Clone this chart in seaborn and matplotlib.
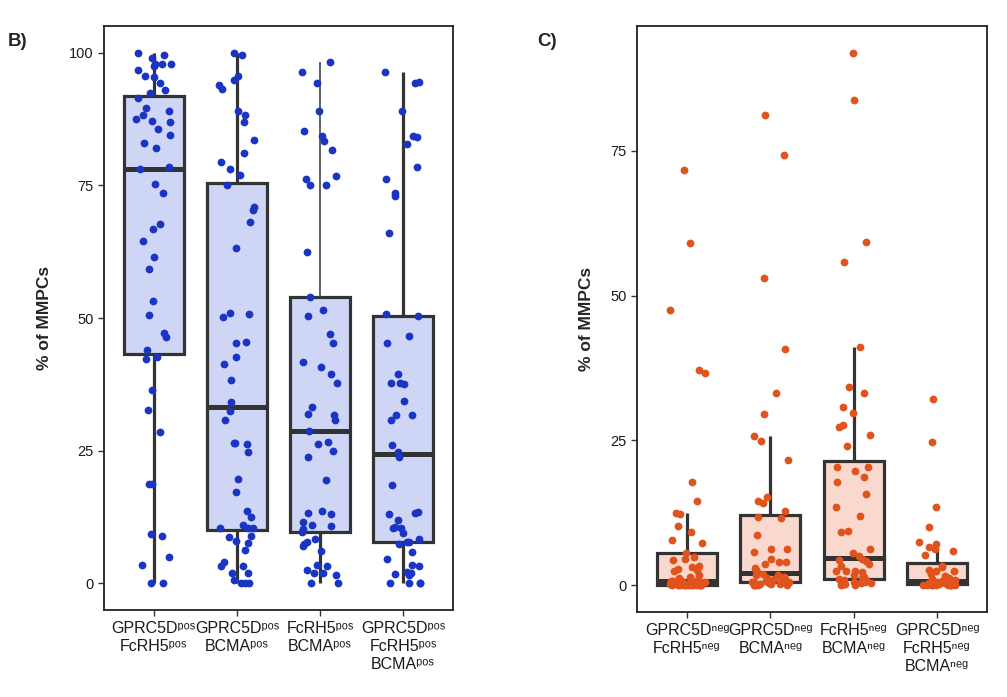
import numpy as np
import pandas as pd
import matplotlib
matplotlib.use("Agg")
import matplotlib.pyplot as plt
import seaborn as sns

# ---------------- data ----------------
P = "\u1d56\u1d52\u02e2"   # superscript "pos"
N = "\u207f\u1d49\u1d4d"   # superscript "neg"
pos_groups = ["GPRC5D" + P + "\nFcRH5" + P,
              "GPRC5D" + P + "\nBCMA" + P,
              "FcRH5" + P + "\nBCMA" + P,
              "GPRC5D" + P + "\nFcRH5" + P + "\nBCMA" + P]
neg_groups = ["GPRC5D" + N + "\nFcRH5" + N,
              "GPRC5D" + N + "\nBCMA" + N,
              "FcRH5" + N + "\nBCMA" + N,
              "GPRC5D" + N + "\nFcRH5" + N + "\nBCMA" + N]

pos_g1 = [99.9, 99.6, 98.9, 97.8, 97.8, 97.8, 97.4, 96.7, 95.6, 95.3, 94.2, 93.0, 92.3,
          91.5, 89.6, 88.9, 88.3, 87.2, 87.0, 87.5, 85.6, 84.4, 83.0, 82.1, 78.5, 78.0,
          75.2, 73.6, 67.7, 66.8, 64.5, 61.5, 59.3, 53.2, 50.5, 46.4, 47.2, 43.9, 42.6,
          42.3, 36.5, 32.6, 28.6, 18.7, 18.7, 9.0, 9.3, 4.9, 3.4, 0.0, 0.0]
pos_g2 = [99.9, 99.5, 95.5, 94.8, 93.8, 93.2, 88.2, 89.0, 86.9, 83.6, 81.1, 79.4, 78.1,
          76.9, 75.0, 71.0, 70.4, 68.1, 63.2, 50.8, 50.1, 51.0, 45.2, 45.4, 42.6, 41.4,
          38.3, 34.2, 32.4, 30.8, 26.4, 26.4, 26.3, 24.8, 19.7, 17.2, 13.6, 12.6, 11.1,
          10.4, 10.4, 10.4, 9.0, 8.7, 8.0, 7.6, 6.3, 4.0, 3.2, 3.2, 1.9, 1.9, 0.6, 0.0,
          0.0, 0.0]
pos_g3 = [98.2, 96.4, 94.2, 88.9, 85.2, 84.2, 83.4, 81.6, 76.8, 76.1, 75.1, 75.1, 62.5,
          53.9, 51.5, 50.3, 46.9, 45.2, 41.8, 40.7, 39.5, 37.7, 33.2, 32.0, 31.7, 30.8,
          28.7, 26.2, 26.6, 24.9, 23.8, 19.5, 13.1, 13.6, 13.2, 11.5, 11.0, 10.8, 10.3,
          9.6, 8.3, 7.5, 7.8, 7.0, 6.2, 3.2, 3.5, 2.5, 1.9, 2.0, 1.5, 0.0, 0.0]
pos_g4 = [96.4, 94.2, 94.5, 88.9, 84.2, 84.0, 82.8, 78.5, 76.1, 73.0, 73.6, 66.0, 50.3,
          50.8, 46.6, 45.2, 39.5, 37.7, 37.7, 37.5, 34.4, 31.8, 31.8, 30.8, 26.1, 24.8,
          23.8, 18.5, 13.5, 13.2, 13.0, 11.9, 10.4, 10.4, 10.7, 9.5, 8.4, 7.5, 7.8, 7.8,
          6.0, 4.7, 3.5, 3.2, 2.1, 1.8, 1.5, 2.0, 0.0, 0.0, 0.0, 0.0]

neg_g1 = [71.6, 59.1, 47.5, 36.7, 37.1, 17.9, 14.5, 12.5, 12.3, 10.3, 9.2, 7.9, 7.3,
          5.6, 4.6, 4.3, 4.9, 3.4, 3.1, 2.9, 2.6, 2.4, 1.7, 1.4, 1.3,
          0.0, 0.0, 0.0, 0.0, 0.0, 0.0, 0.0, 0.0, 0.0, 0.0, 0.0, 0.0, 0.1, 0.1, 0.2,
          0.2, 0.3, 0.3, 0.4, 0.4, 0.5, 0.5, 0.6, 0.6, 0.7, 0.7, 0.8, 0.8]
neg_g2 = [81.1, 74.2, 53.0, 40.7, 33.1, 29.6, 25.7, 24.9, 21.7, 15.2, 14.6, 14.2, 12.8,
          11.8, 11.7, 8.7, 6.2, 6.2, 5.7, 4.1, 3.7, 4.0, 4.6, 3.0, 2.6, 2.3,
          0.0, 0.0, 0.0, 0.1, 0.1, 0.2, 0.2, 0.3, 0.3, 0.4, 0.4, 0.5, 0.5, 0.6, 0.7,
          0.8, 0.9, 1.0, 1.1, 1.2, 1.3, 1.4, 1.5, 1.7, 1.8, 2.0]
neg_g3 = [91.9, 83.7, 59.3, 55.8, 41.1, 34.2, 33.1, 30.7, 29.8, 27.4, 27.6, 25.9, 24.0,
          20.5, 19.7, 20.4, 18.7, 17.9, 15.8, 13.5, 11.9, 9.2, 9.4, 6.2, 5.5, 5.0, 4.6,
          4.3, 4.2, 3.7, 3.3, 2.5, 2.4, 2.3, 2.4, 1.7, 1.5, 1.3, 1.1, 1.0, 0.9, 0.8,
          0.6, 0.6, 0.5, 0.5, 0.4, 0.4, 0.3, 0.2, 0.1, 0.0]
neg_g4 = [32.2, 24.8, 13.6, 10.1, 7.4, 7.2, 6.7, 6.2, 6.0, 5.2, 3.4, 3.1, 2.6, 2.4,
          2.4, 2.0, 1.6, 1.3, 1.1, 0.9, 0.7, 0.6, 0.5, 0.5, 0.4, 0.4, 0.3, 0.3, 0.2,
          0.2, 0.1, 0.1, 0.0, 0.0, 0.0, 0.0, 0.0, 0.0, 0.0, 0.0]

pos_values = [pos_g1, pos_g2, pos_g3, pos_g4]
neg_values = [neg_g1, neg_g2, neg_g3, neg_g4]


def long_df(groups, values):
    rows = []
    for g, vals in zip(groups, values):
        for v in vals:
            rows.append((g, v))
    return pd.DataFrame(rows, columns=["group", "value"])


df_pos = long_df(pos_groups, pos_values)
df_neg = long_df(neg_groups, neg_values)

# ---------------- style ----------------
sns.set_style("white")
plt.rcParams["font.family"] = ["Liberation Sans", "DejaVu Sans"]

W, H = 1007, 697
fig = plt.figure(figsize=(W / 100, H / 100), dpi=100)
ax1 = fig.add_axes([104 / W, 1 - 610 / H, (453 - 104) / W, (610 - 26) / H])
ax2 = fig.add_axes([637 / W, 1 - 612 / H, (987 - 637) / W, (612 - 26) / H])

np.random.seed(7)


def panel(ax, df, order, fill, pt, ylim, yticks):
    sns.boxplot(data=df, x="group", y="value", order=order, ax=ax,
                color=fill, saturation=1, width=0.72, linecolor="#333333",
                linewidth=2.3, showfliers=False, showcaps=False, whis=1.5,
                medianprops=dict(linewidth=3.6, color="#333333"),
                boxprops=dict(zorder=1))
    sns.stripplot(data=df, x="group", y="value", order=order, ax=ax,
                  color=pt, size=5.6, jitter=0.22, linewidth=0, zorder=3)
    ax.set_xlim(-0.6, 3.6)
    ax.set_ylim(*ylim)
    ax.set_yticks(yticks)
    ax.set_xlabel("")
    ax.set_ylabel("% of MMPCs", fontsize=12.5, fontweight="bold", labelpad=12)
    ax.tick_params(axis="both", which="both", direction="out", length=4,
                   width=1.0, color="#333333", bottom=True, left=True,
                   labelsize=10.5, labelcolor="#1a1a1a")
    ax.tick_params(axis="x", labelsize=11.5, pad=4)
    for s in ax.spines.values():
        s.set_visible(True)
        s.set_color("#222222")
        s.set_linewidth(1.3)
    for lab in ax.get_xticklabels():
        lab.set_linespacing(1.25)
        lab.set_va("top")


panel(ax1, df_pos, pos_groups, "#cfd6f5", "#1a35c4", (-5, 105), [0, 25, 50, 75, 100])
panel(ax2, df_neg, neg_groups, "#f9d9cd", "#e0531c", (-4.6, 96.5), [0, 25, 50, 75])

# thinner whisker on the third box of panel B, as in the original
for ln in ax1.lines:
    xd = np.asarray(ln.get_xdata(), dtype=float)
    yd = np.asarray(ln.get_ydata(), dtype=float)
    if len(xd) == 2 and np.allclose(xd, 2) and yd.max() > 60:
        ln.set_linewidth(1.3)
        ln.set_color("#555555")

fig.text(8 / W, 1 - 41 / H, "B)", fontsize=13.5, fontweight="bold", va="center", ha="left")
fig.text(537 / W, 1 - 41 / H, "C)", fontsize=13.5, fontweight="bold", va="center", ha="left")

fig.savefig("out.png", dpi=100)
